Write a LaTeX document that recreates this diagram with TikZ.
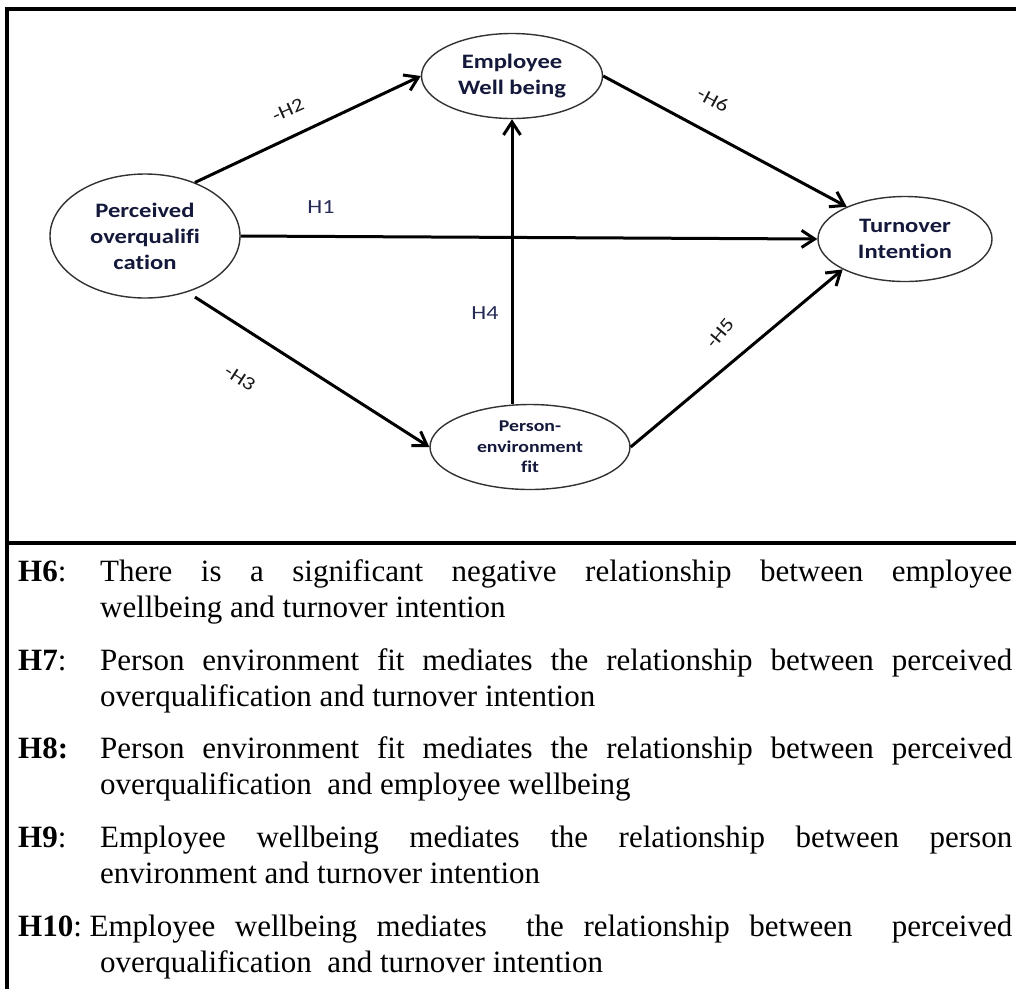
\documentclass[tikz,border=0pt]{standalone}
\usepackage{fontspec}
\setmainfont{Liberation Serif}
\newfontfamily\diagfont[FakeStretch=1.2,Ligatures=CommonOff]{Carlito}
\usetikzlibrary{shapes.geometric,arrows.meta,calc}

\definecolor{nodeink}{RGB}{20,24,58}
\definecolor{labelink}{RGB}{38,44,86}
\definecolor{rimgray}{RGB}{50,50,50}

% first line of a hypothesis: label in a fixed-width slot, text justified to the margin
\newcommand\hypfirst[2]{\makebox[82pt][l]{#1}\makebox[912pt][s]{#2}}
% first line whose label is wider than the slot: text follows the label directly
\newcommand\hypwide[2]{\setbox0\hbox{#1\ }\copy0\makebox[\dimexpr994pt-\wd0\relax][s]{#2}}

\tikzset{
  construct/.style={ellipse, draw=rimgray, line width=1.4pt, fill=white,
    inner sep=0pt, align=center, text=nodeink,
    font=\diagfont\bfseries\fontsize{20.5}{26}\selectfont},
  link/.style={line width=3pt, -{Straight Barb[length=13pt,width=17pt]}},
  hyp/.style={text=labelink, inner sep=0pt, font=\diagfont\fontsize{20}{24}\selectfont},
  neg/.style={text=black!90, inner sep=0pt, font=\diagfont\fontsize{19}{22}\selectfont},
  body/.style={anchor=base west, inner sep=0pt, font=\fontsize{31}{36}\selectfont},
  rule/.style={line width=4pt},
}

\begin{document}
\begin{tikzpicture}[x=1pt,y=-1pt]
\useasboundingbox (0,0) rectangle (1016,989);
\fill[white] (0,0) rectangle (1016,989);

% frame: top rule, left rule and the rule under the model
\draw[rule] (4.5,9) -- (1016,9);
\draw[rule] (6.5,7) -- (6.5,989);
\draw[rule] (4.5,543) -- (1016,543);

% constructs
\node[construct, minimum width=190pt, minimum height=124pt] (perc) at (145,236)
  {Perceived\\overqualifi\\cation};
\node[construct, minimum width=181pt, minimum height=85pt] (ewb) at (512,76)
  {Employee\\Well being};
\node[construct, minimum width=174pt, minimum height=85pt] (ti) at (905,239)
  {Turnover\\Intention};
\node[construct, minimum width=200pt, minimum height=85pt,
  font=\diagfont\bfseries\fontsize{16.5}{20.5}\selectfont] (pe) at (530,447)
  {Person-\\environment\\fit};

% paths
\draw[link] (perc.47.7) -- (ewb.west);
\draw[link] (perc.east) -- (ti.west);
\draw[link, shorten <=9pt] (perc.-53) -- (pe.west);
\draw[link] (pe.north -| ewb.south) -- (ewb.south);
\draw[link] (ewb.east) -- (ti.151);
\draw[link] (pe.east) -- (ti.206.6);

% path labels
\node[neg, rotate=24] (lh2) at (288,110) {-H2};
\node[hyp] (lh1) at (321,207) {H1};
\node[neg, rotate=-28] (lh6) at (713,100) {-H6};
\node[neg, rotate=-33] (lh3) at (240,378) {-H3};
\node[hyp] (lh4) at (485,313) {H4};
\node[neg, rotate=50] (lh5) at (720,333) {-H5};

% hypotheses
\node[body] (h6a) at (18,581) {\hypfirst{\textbf{H6}:}{There is a significant negative relationship between employee}};
\node[body] (h6b) at (100,617) {wellbeing and turnover intention};
\node[body] (h7a) at (18,670) {\hypfirst{\textbf{H7}:}{Person environment fit mediates the relationship between perceived}};
\node[body] (h7b) at (100,706) {overqualification and turnover intention};
\node[body] (h8a) at (18,758) {\hypfirst{\textbf{H8:}}{Person environment fit mediates the relationship between perceived}};
\node[body] (h8b) at (100,794) {overqualification\ \ and employee wellbeing};
\node[body] (h9a) at (18,847) {\hypfirst{\textbf{H9}:}{Employee wellbeing mediates the relationship between person}};
\node[body] (h9b) at (100,883) {environment and turnover intention};
\node[body] (h10a) at (18,936) {\hypwide{\textbf{H10}:}{Employee wellbeing mediates\ \ the relationship between\ \ perceived}};
\node[body] (h10b) at (100,972) {overqualification\ \ and turnover intention};
\end{tikzpicture}
\end{document}
